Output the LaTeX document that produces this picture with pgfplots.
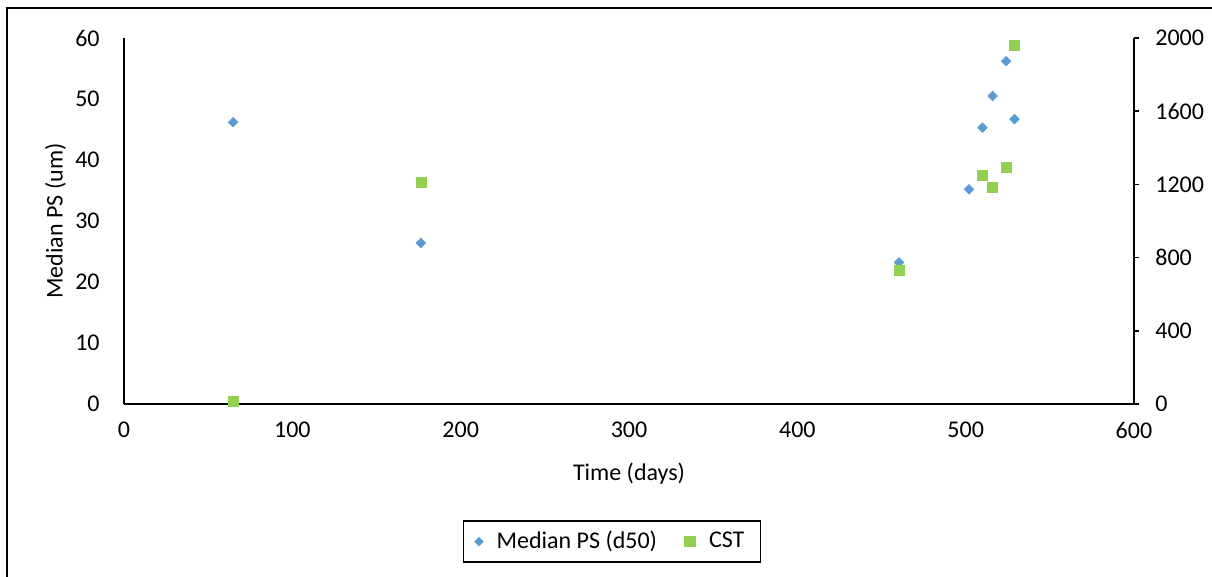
\documentclass[border=0pt]{standalone}
\usepackage{fontspec}
\setmainfont{Carlito}
\usepackage{pgfplots}
\pgfplotsset{compat=1.18}
\definecolor{ps}{HTML}{5B9BD5}
\definecolor{cst}{HTML}{92D050}
\begin{document}
\fontsize{12}{14}\selectfont
\begin{tikzpicture}
\useasboundingbox (0,0) rectangle (606pt,288.5pt);
\draw[line width=1pt] (3.5pt,0) -- (3.5pt,284.3pt) -- (606pt,284.3pt);
\pgfplotsset{every axis/.append style={
  scale only axis, width=505pt, height=183pt,
  at={(62pt,86.5pt)}, anchor=south west,
  xmin=0, xmax=600,
  /pgf/number format/assume math mode=true,
  /pgf/number format/1000 sep={},
  tick label style={font=\fontsize{12}{14}\selectfont},
  label style={font=\fontsize{12}{14}\selectfont},
  axis line style={line width=0.75pt, black},
}}
\begin{axis}[
  axis y line*=left, axis x line*=bottom,
  ymin=0, ymax=60, ytick={0,10,...,60},
  xtick={0,100,...,600},
  major tick length=0pt,
  yticklabel style={xshift=-8pt},
  xticklabel style={yshift=-5pt},
  xlabel={Time (days)}, ylabel={Median PS (um)},
  xlabel style={yshift=-4pt},
  ylabel style={yshift=-3.5pt},
]
\addplot[only marks, mark=square*, mark size=1.65pt, mark options={fill=ps, draw=ps, rotate=45}] coordinates {
(64.8,46.2) (176.4,26.4) (460.4,23.2) (502,35.2) (510,45.3) (516,50.5) (524,56.2) (529,46.7)
};
\end{axis}
\begin{axis}[
  axis y line*=right, axis x line=none,
  ymin=0, ymax=2000, ytick={0,400,...,2000},
  tick align=outside, major tick length=2.5pt,
  tick style={line width=0.75pt, black},
  yticklabel style={xshift=4pt},
  legend style={at={(0.483,-0.376)}, anchor=center, draw=black, line width=0.75pt,
    legend columns=2, font=\fontsize{12}{14}\selectfont, inner xsep=6pt, inner ysep=3pt,
    /tikz/every odd column/.append style={column sep=5pt},
    /tikz/every even column/.append style={column sep=12pt}},
  legend cell align=left,
]
\addlegendimage{only marks, mark=square*, mark size=1.3pt, mark options={fill=ps, draw=ps, rotate=45}}
\addlegendentry{Median PS (d50)}
\addplot[only marks, mark=square*, mark size=2.5pt, mark options={fill=cst, draw=cst}] coordinates {
(64.8,16) (176.4,1213) (460.4,728) (510,1250) (516,1184) (524,1295) (529,1960)
};
\addlegendentry{CST}
\end{axis}
\end{tikzpicture}
\end{document}
